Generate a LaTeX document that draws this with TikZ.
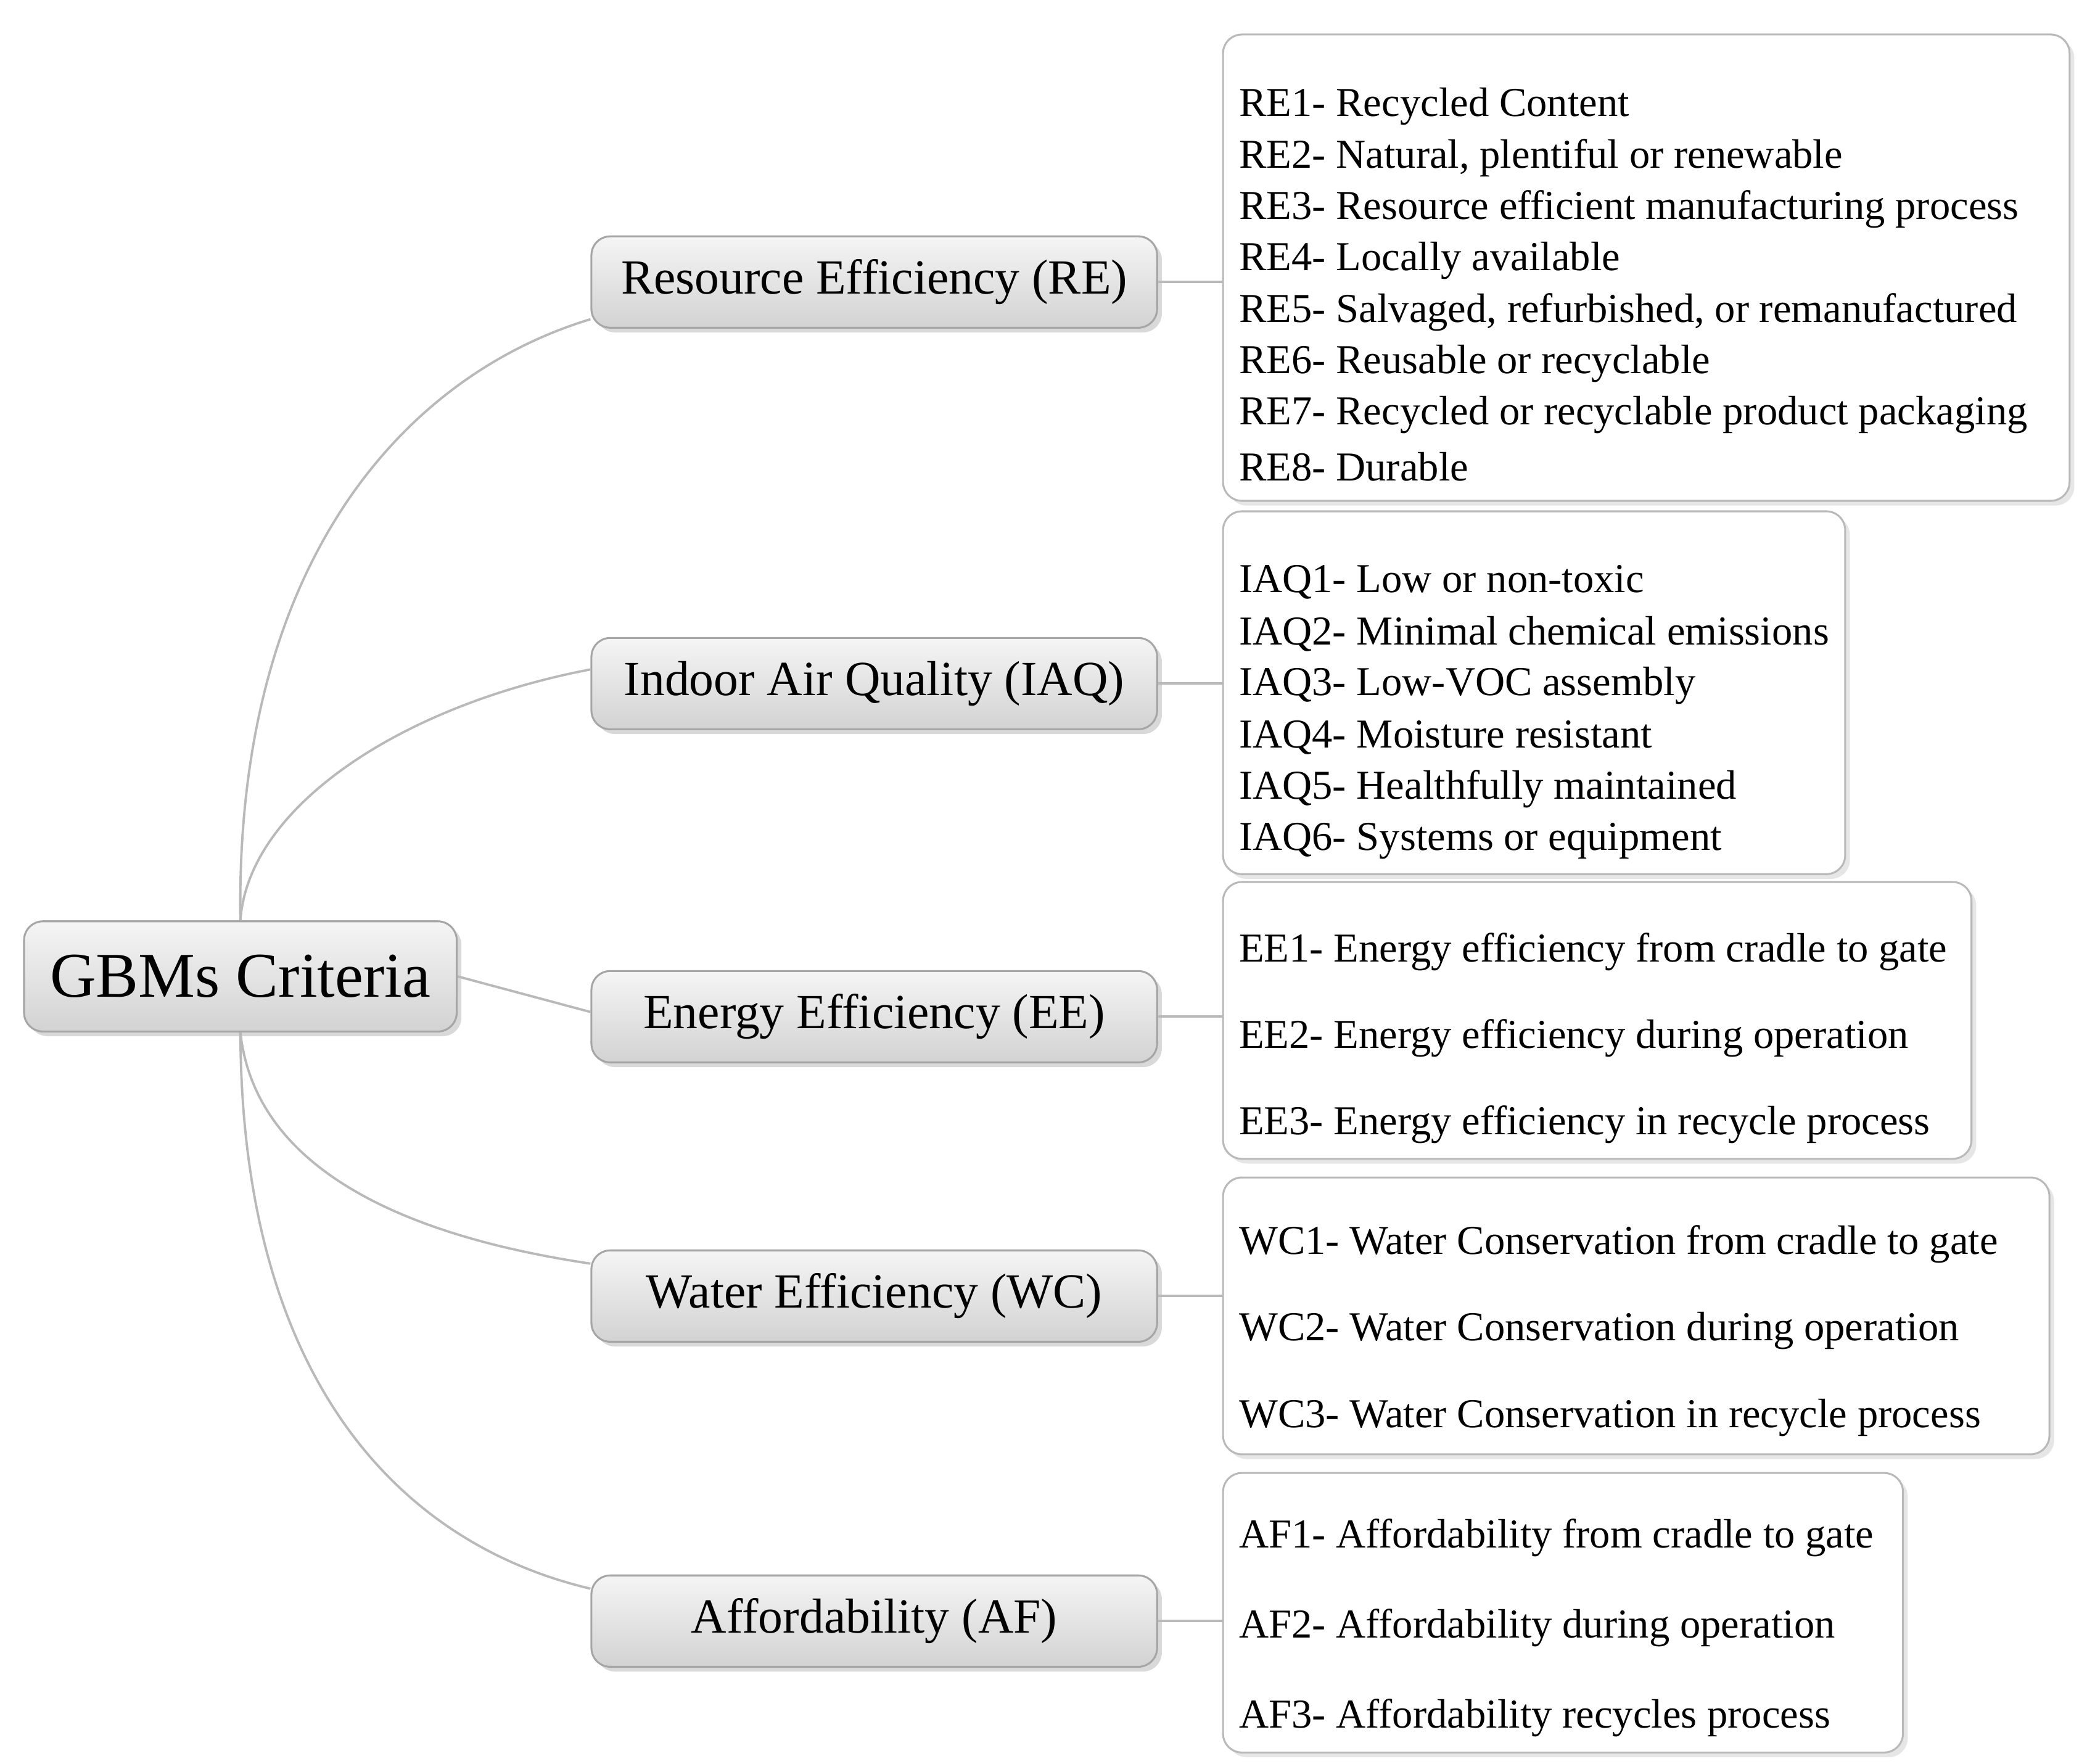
\documentclass[tikz,border=0pt]{standalone}
\usepackage{fontspec}
\setmainfont{Liberation Serif}
\usetikzlibrary{shadows}
\begin{document}
\begin{tikzpicture}[x=0.01cm,y=-0.01cm,
 mid/.style={draw=gray!70,rounded corners=4pt,top color=gray!8,bottom color=gray!35,
   drop shadow={opacity=0.3,shadow xshift=1pt,shadow yshift=-1pt},
   minimum width=4.21cm,minimum height=0.68cm,font=\fontsize{10.4}{12}\selectfont,inner sep=0pt},
 leaf/.style={draw=gray!55,rounded corners=4pt,fill=white,
   drop shadow={opacity=0.2,shadow xshift=1pt,shadow yshift=-1pt},anchor=north west,inner sep=0pt},
 item/.style={anchor=west,font=\fontsize{8.7}{10}\selectfont,inner sep=0pt},
 con/.style={draw=gray!55,line width=0.5pt}]
\useasboundingbox (0,0) rectangle (1560,1313);
\node[mid,minimum width=3.22cm,minimum height=0.82cm,font=\fontsize{13.5}{15}\selectfont] (g) at (179,727) {GBMs Criteria};
\node[mid] (re) at (651,210) {Resource Efficiency (RE)};
\node[mid] (iaq) at (651,509) {Indoor Air Quality (IAQ)};
\node[mid] (ee) at (651,757) {Energy Efficiency (EE)};
\node[mid] (wc) at (651,965) {Water Efficiency (WC)};
\node[mid] (af) at (651,1207) {Affordability (AF)};
\node[leaf,minimum width=6.3cm,minimum height=3.47cm] (bre) at (910,25) {};
\node[leaf,minimum width=4.63cm,minimum height=2.70cm] (biaq) at (910,380) {};
\node[leaf,minimum width=5.57cm,minimum height=2.06cm] (bee) at (910,656) {};
\node[leaf,minimum width=6.15cm,minimum height=2.06cm] (bwc) at (910,876) {};
\node[leaf,minimum width=5.06cm,minimum height=2.08cm] (baf) at (910,1096) {};
\foreach \t [count=\i] in {RE1- Recycled Content,RE2- Natural{,} plentiful or renewable,RE3- Resource efficient manufacturing process,RE4- Locally available,RE5- Salvaged{,} refurbished{,} or remanufactured,RE6- Reusable or recyclable,RE7- Recycled or recyclable product packaging,RE8- Durable}
 \node[item] (r\i) at (922,{41+38.3*\i}) {\t};
\foreach \t [count=\i] in {IAQ1- Low or non-toxic,IAQ2- Minimal chemical emissions,IAQ3- Low-VOC assembly,IAQ4- Moisture resistant,IAQ5- Healthfully maintained,IAQ6- Systems or equipment}
 \node[item] (q\i) at (922,{395+38.5*\i}) {\t};
\foreach \t [count=\i] in {EE1- Energy efficiency from cradle to gate,EE2- Energy efficiency during operation,EE3- Energy efficiency in recycle process}
 \node[item] (e\i) at (922,{644+64.5*\i}) {\t};
\foreach \t [count=\i] in {WC1- Water Conservation from cradle to gate,WC2- Water Conservation during operation,WC3- Water Conservation in recycle process}
 \node[item] (w\i) at (922,{862+64.5*\i}) {\t};
\foreach \t [count=\i] in {AF1- Affordability from cradle to gate,AF2- Affordability during operation,AF3- Affordability recycles process}
 \node[item] (a\i) at (922,{1078+67*\i}) {\t};
\draw[con] (g.north) .. controls (175,420) and (300,280) .. ([yshift=2pt]re.south west);
\draw[con] (g.north) .. controls (185,600) and (300,525) .. ([yshift=3pt]iaq.west);
\draw[con] (g.east) -- ([yshift=1pt]ee.west);
\draw[con] (g.south) .. controls (190,870) and (300,920) .. ([yshift=-3pt]wc.north west);
\draw[con] (g.south) .. controls (180,1030) and (300,1150) .. ([yshift=-3pt]af.north west);
\foreach \a/\b in {re/bre,iaq/biaq,ee/bee,wc/bwc,af/baf} \draw[con] (\a.east) -- (\b.west|-\a.east);
\end{tikzpicture}
\end{document}
